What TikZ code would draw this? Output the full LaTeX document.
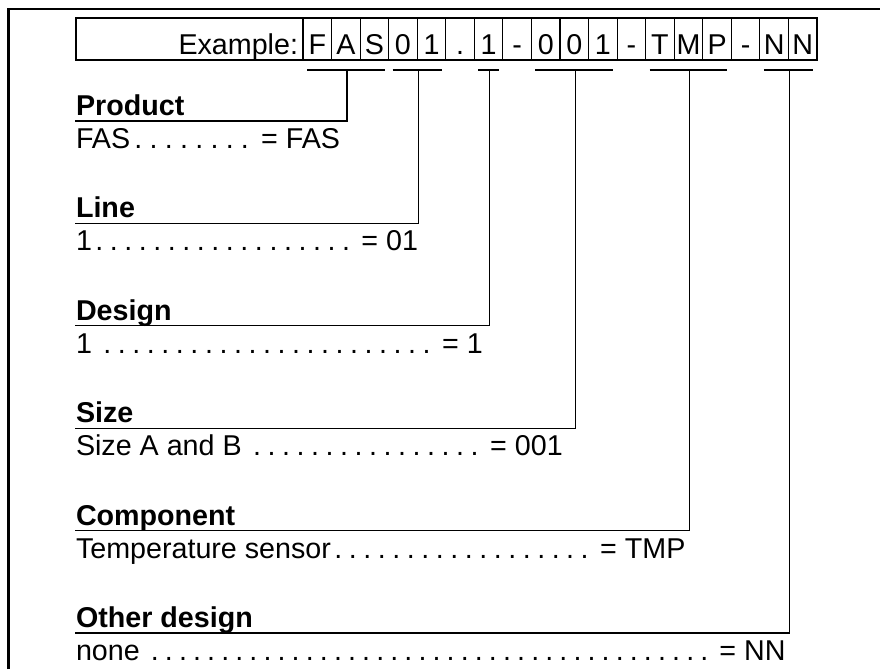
\documentclass[tikz,border=0pt]{standalone}
\usepackage{fontspec}
\setmainfont{Liberation Sans}
\newcommand\leaderrow[3]{\hbox to #1{#2\xleaders\hbox to 10.5pt{\hss.\hss}\hfill\ = #3}}
\begin{document}
\begin{tikzpicture}[x=0.75pt,y=-0.75pt,
  every node/.style={inner sep=0pt, outer sep=0pt, font=\fontsize{21.5}{25}\selectfont},
  frameline/.style={line width=2.2pt},
  boxline/.style={line width=0.8pt},
  conn/.style={line width=1pt},
  head/.style={anchor=base west, font=\fontsize{21.5}{25}\selectfont\bfseries},
  rowtxt/.style={anchor=base west},
  cell/.style={anchor=base}]
\useasboundingbox (0,0) rectangle (880,669);
% frame
\draw[frameline] (8.5,669) -- (8.5,9) -- (880,9);
% code box
\draw[boxline] (76,18) rectangle (817,60);
\node[anchor=base east] (ex) at (298,54) {Example:};
\foreach \c [count=\i from 0] in {F,A,S,0,1,.,1,-,0,0,1,-,T,M,P,-,N,N}{
  \draw[boxline] ({303+\i*28.556},18) -- ({303+\i*28.556},60);
  \node[cell] (cell\i) at ({303+(\i+0.5)*28.556},54) {\c};
}
% brackets and connectors
\foreach \a/\b/\n/\Y in {0/2/p/121,3/4/l/223.4,6/6/d/325.8,8/10/s/428.2,12/14/c/530.6,16/17/o/633}{
  \coordinate (bl\n) at ({303+\a*28.556+4},70);
  \coordinate (br\n) at ({303+(\b+1)*28.556-4},70);
  \coordinate (top\n) at ({303+(\a+\b+1)*14.278+1},70);
  \coordinate (ul\n) at ({303+(\a+\b+1)*14.278+1},\Y);
  \coordinate (us\n) at (75,\Y);
  \draw[conn] (bl\n) -- (br\n);
  \draw[conn] (top\n) -- (ul\n) -- (us\n);
}
% headings and rows
\node[head] (hp) at (76,115.5) {Product};
\node[rowtxt] (rp) at (76,148.5) {\leaderrow{198pt}{FAS}{FAS}};
\node[head] (hl) at (76,217.9) {Line};
\node[rowtxt] (rl) at (76,250.9) {\leaderrow{256.5pt}{1}{01}};
\node[head] (hd) at (76,320.3) {Design};
\node[rowtxt] (rd) at (76,353.3) {\leaderrow{305pt}{1 }{1}};
\node[head] (hs) at (76,422.7) {Size};
\node[rowtxt] (rs) at (76,455.7) {\leaderrow{365pt}{Size A and B }{001}};
\node[head] (hc) at (76,525.1) {Component};
\node[rowtxt] (rc) at (76,558.1) {\leaderrow{457pt}{Temperature sensor}{TMP}};
\node[head] (ho) at (76,627.5) {Other design};
\node[rowtxt] (ro) at (76,660.5) {\leaderrow{532pt}{none }{NN}};
\end{tikzpicture}
\end{document}
